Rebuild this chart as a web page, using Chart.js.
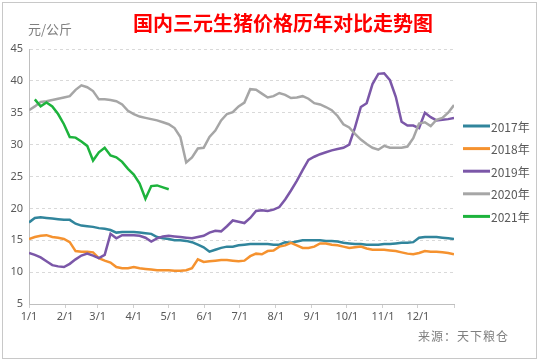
<!DOCTYPE html>
<html>
<head>
<meta charset="utf-8">
<script src="https://cdn.jsdelivr.net/npm/chart.js@4"></script>
<style>
  html, body { margin: 0; padding: 0; background: #fff; }
  #wrap { position: relative; width: 540px; height: 362px; overflow: hidden; }
  #frame { position: absolute; left: 2px; top: 2px; width: 535px; height: 357px; box-sizing: border-box; border: 1px solid #c8c8c8; }
  #title { position: absolute; left: 283px; top: 8px; transform: translateX(-50%); white-space: nowrap;
           font: bold 20px "Noto Sans CJK SC", sans-serif; color: #ff0000; }
  #unit { position: absolute; left: 28px; top: 19px; font: 13px "Noto Sans CJK SC", sans-serif; color: #7f7f7f; }
  #source { position: absolute; left: 418px; top: 327px; font: 12px "Noto Sans CJK SC", sans-serif; color: #7f7f7f; letter-spacing: 1px; }
  canvas { position: absolute; left: 0; top: 0; }
</style>
</head>
<body>
<div id="wrap">
  <canvas id="grafico" width="540" height="362"></canvas>
  <div id="frame"></div>
  <div id="title">国内三元生猪价格历年对比走势图</div>
  <div id="unit">元/公斤</div>
  <div id="source">来源：天下粮仓</div>
</div>
<script>
// eixo x: dia do ano (amostra a cada 5 dias)
const days = Array.from({ length: 74 }, (_, i) => i * 5);
const monthDays = [0, 31, 59, 90, 120, 151, 181, 212, 243, 273, 304, 334, 365];
const monthLabels = ['1/1', '2/1', '3/1', '4/1', '5/1', '6/1', '7/1', '8/1', '9/1', '10/1', '11/1', '12/1', ''];
const yTicks = [5, 10, 15, 20, 25, 30, 35, 40, 45];

const seriesNames = ['2017年', '2018年', '2019年', '2020年', '2021年'];
const seriesColors = ['#31859c', '#f5922f', '#7b57a8', '#a6a6a6', '#1db33c'];

const p2017 = [17.8, 18.5, 18.6, 18.5, 18.4, 18.3, 18.2, 18.2, 17.6, 17.3,
  17.2, 17.1, 16.9, 16.8, 16.6, 16.2, 16.3, 16.3, 16.3, 16.2,
  16.1, 16.0, 15.5, 15.3, 15.2, 15.0, 15.0, 14.9, 14.7, 14.3,
  13.9, 13.2, 13.5, 13.8, 14.0, 14.0, 14.2, 14.3, 14.4, 14.4,
  14.4, 14.4, 14.3, 14.3, 14.7, 14.6, 14.8, 15.0, 15.0, 15.0,
  15.0, 14.9, 14.9, 14.8, 14.6, 14.5, 14.4, 14.4, 14.3, 14.3,
  14.3, 14.4, 14.4, 14.5, 14.6, 14.6, 14.7, 15.4, 15.5, 15.5,
  15.5, 15.4, 15.3, 15.2];

const p2018 = [15.2, 15.5, 15.7, 15.8, 15.5, 15.4, 15.2, 14.7, 13.3, 13.2,
  13.2, 13.1, 12.2, 11.8, 11.5, 10.8, 10.6, 10.6, 10.8, 10.6,
  10.5, 10.4, 10.3, 10.3, 10.3, 10.2, 10.2, 10.3, 10.6, 12.0,
  11.6, 11.7, 11.8, 11.9, 11.9, 11.8, 11.7, 11.8, 12.5, 12.9,
  12.8, 13.3, 13.4, 14.0, 14.2, 14.6, 14.2, 13.8, 13.8, 14.0,
  14.5, 14.5, 14.3, 14.2, 14.0, 13.8, 13.9, 14.0, 13.7, 13.5,
  13.5, 13.5, 13.4, 13.3, 13.1, 12.9, 12.8, 13.0, 13.3, 13.2,
  13.2, 13.1, 13.0, 12.8];

const p2019 = [13.0, 12.7, 12.3, 11.7, 11.1, 10.9, 10.8, 11.3, 12.0, 12.6,
  12.9, 12.6, 12.2, 12.7, 16.0, 15.3, 15.8, 15.8, 15.8, 15.7,
  15.4, 14.8, 15.3, 15.6, 15.7, 15.6, 15.5, 15.4, 15.3, 15.5,
  15.7, 16.2, 16.5, 16.4, 17.2, 18.1, 17.9, 17.7, 18.5, 19.6,
  19.7, 19.6, 19.8, 20.2, 21.4, 22.8, 24.3, 26.0, 27.6, 28.1,
  28.5, 28.8, 29.1, 29.3, 29.5, 30.0, 32.7, 35.9, 36.5, 39.5,
  41.1, 41.2, 40.1, 37.5, 33.6, 33.0, 33.0, 32.6, 35.0, 34.3,
  33.8, 33.9, 34.0, 34.2];

const p2020 = [35.4, 36.0, 36.7, 36.8, 37.0, 37.2, 37.4, 37.6, 38.6, 39.3,
  39.0, 38.4, 37.1, 37.1, 37.0, 36.8, 36.3, 35.3, 34.8, 34.4,
  34.2, 34.0, 33.8, 33.5, 33.2, 32.6, 31.2, 27.2, 28.0, 29.4,
  29.5, 31.2, 32.2, 33.8, 34.8, 35.1, 36.0, 36.6, 38.7, 38.6,
  38.0, 37.4, 37.6, 38.1, 37.8, 37.3, 37.4, 37.6, 37.2, 36.5,
  36.3, 35.9, 35.4, 34.5, 33.2, 32.7, 31.7, 30.8, 30.1, 29.5,
  29.2, 29.8, 29.5, 29.5, 29.5, 29.7, 31.0, 33.3, 33.5, 32.9,
  33.9, 34.2, 35.0, 36.2];

const p2021 = [null, 37.1, 36.0, 36.6, 36.0, 34.8, 33.2, 31.2, 31.1, 30.5,
  29.8, 27.5, 28.8, 29.5, 28.3, 28.0, 27.3, 26.2, 25.3, 23.9,
  21.5, 23.5, 23.6, 23.3, 23.0];

const allSeries = [p2017, p2018, p2019, p2020, p2021];

// legenda desenhada à direita
const legendaDireita = {
  id: 'legendaDireita',
  afterDraw(chart) {
    const ctx = chart.ctx;
    ctx.save();
    chart.data.datasets.forEach((ds, i) => {
      const y = 126 + i * 22.6;
      ctx.strokeStyle = ds.borderColor;
      ctx.lineWidth = 3;
      ctx.beginPath();
      ctx.moveTo(463, y);
      ctx.lineTo(490, y);
      ctx.stroke();
      ctx.fillStyle = '#595959';
      ctx.font = '12px "Noto Sans CJK SC", sans-serif';
      ctx.textBaseline = 'middle';
      ctx.fillText(ds.label, 491, y + 1);
    });
    ctx.restore();
  }
};

const datasets = allSeries.map((vals, i) => ({
  label: seriesNames[i],
  data: vals.map((v, k) => ({ x: days[k], y: v })),
  borderColor: seriesColors[i],
  backgroundColor: seriesColors[i],
  borderWidth: 2.5,
  pointRadius: 0,
  tension: 0,
  spanGaps: false,
  order: allSeries.length - i
}));

new Chart(document.getElementById('grafico'), {
  type: 'line',
  data: { datasets: datasets },
  options: {
    responsive: false,
    animation: false,
    devicePixelRatio: 1,
    layout: { padding: { top: 49, right: 86, left: 0, bottom: 0 } },
    plugins: { legend: { display: false }, tooltip: { enabled: false } },
    scales: {
      x: {
        type: 'linear',
        min: 0,
        max: 365,
        afterBuildTicks: (scale) => { scale.ticks = monthDays.map(v => ({ value: v })); },
        afterFit: (scale) => { scale.height = 58; },
        ticks: {
          autoSkip: false,
          maxRotation: 0,
          padding: 2,
          color: '#595959',
          font: { family: 'Noto Sans', size: 11 },
          callback: (v) => monthLabels[monthDays.indexOf(v)]
        },
        grid: { drawOnChartArea: false, drawTicks: true, tickLength: 4, color: '#d0d0d0' },
        border: { color: '#bfbfbf' }
      },
      y: {
        min: 5,
        max: 45,
        afterBuildTicks: (scale) => { scale.ticks = yTicks.map(v => ({ value: v })); },
        afterFit: (scale) => { scale.width = 29; },
        ticks: {
          padding: 6,
          color: '#595959',
          font: { family: 'Noto Sans', size: 11 }
        },
        grid: { color: '#d9d9d9', drawTicks: false },
        border: { color: '#bfbfbf', dash: [3, 3] }
      }
    }
  },
  plugins: [legendaDireita]
});
</script>
</body>
</html>
